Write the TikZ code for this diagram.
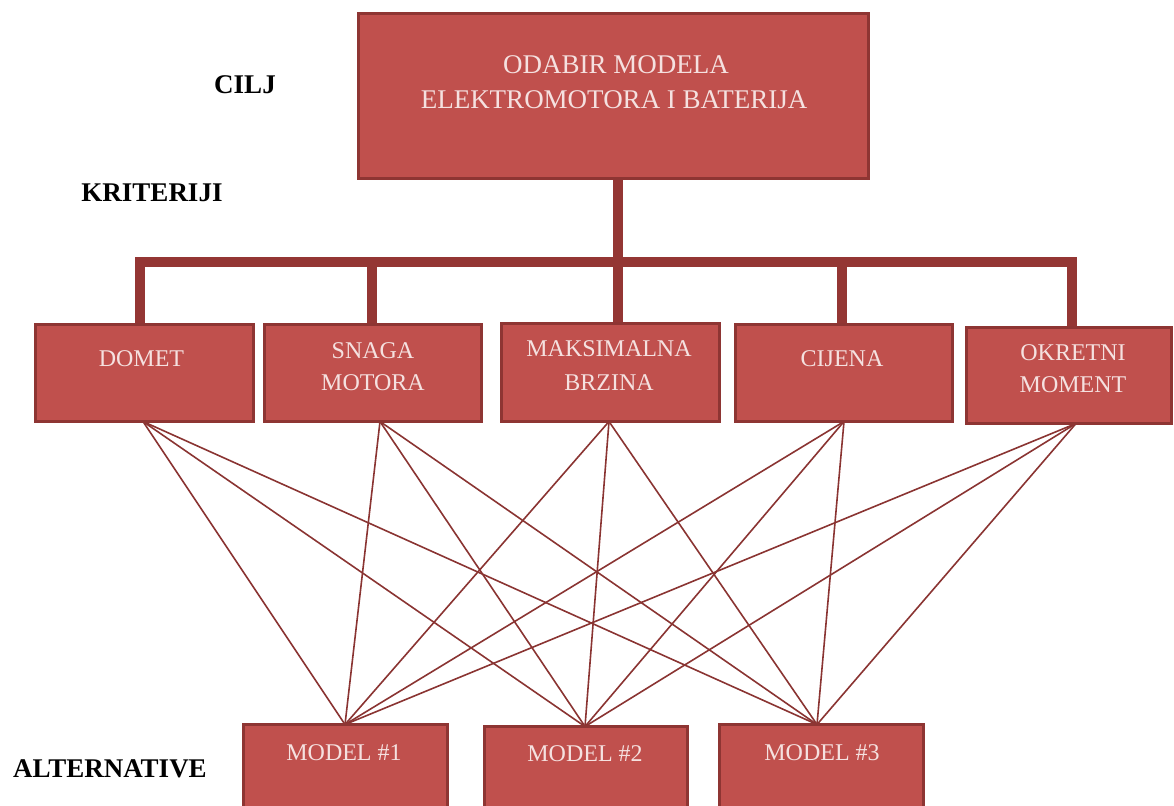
\documentclass[tikz,border=0pt]{standalone}
\usepackage{fontspec}
\setmainfont{Liberation Serif}
\usetikzlibrary{backgrounds}
\definecolor{boxfill}{HTML}{C0504D}
\definecolor{boxline}{HTML}{8E3533}
\definecolor{boxtext}{HTML}{F5E1E0}
\definecolor{trunkcol}{HTML}{943634}
\definecolor{linkcol}{HTML}{8A3432}
\begin{document}
\begin{tikzpicture}[x=1pt,y=-1pt,
  box/.style={draw=boxline, fill=boxfill, line width=3pt, rectangle, inner sep=0pt, outer sep=0pt},
  boxtxt/.style={text=boxtext, anchor=base, inner sep=0pt, font=\fontsize{24}{28}\selectfont},
  toptxt/.style={boxtxt, font=\fontsize{27}{32}\selectfont},
  lbl/.style={anchor=base, inner sep=0pt, text=black, font=\fontsize{27}{32}\selectfont\bfseries},
  trunk/.style={draw=trunkcol, line width=10pt, line join=miter},
  link/.style={draw=linkcol, line width=1.6pt}]
\useasboundingbox (0,0) rectangle (1174,805);

% boxes
\node[box, minimum width=510pt, minimum height=165pt] (goal) at (613.5,96) {};
\node[box, minimum width=218pt, minimum height=97pt] (dom) at (144.5,373) {};
\node[box, minimum width=217pt, minimum height=97pt] (sna) at (373,373) {};
\node[box, minimum width=218pt, minimum height=98pt] (mak) at (610.5,372.5) {};
\node[box, minimum width=217pt, minimum height=97pt] (cij) at (844,373) {};
\node[box, minimum width=205pt, minimum height=96pt] (okr) at (1069,375.5) {};
\node[box, minimum width=204pt, minimum height=86pt] (m1) at (345.5,767.5) {};
\node[box, minimum width=203pt, minimum height=84pt] (m2) at (586,768.5) {};
\node[box, minimum width=204pt, minimum height=86pt] (m3) at (821.5,767.5) {};

% texts
\node[toptxt] (g1) at (616,74) {ODABIR MODELA};
\node[toptxt] (g2) at (614,109) {ELEKTROMOTORA I BATERIJA};
\node[lbl] (cilj) at (245,94) {CILJ};
\node[lbl] (krit) at (152,201) {KRITERIJI};
\node[lbl] (alt) at (110,777) {ALTERNATIVE};
\node[boxtxt] (tdom) at (141.5,366) {DOMET};
\node[boxtxt] (tsna1) at (373,358) {SNAGA};
\node[boxtxt] (tsna2) at (373,390) {MOTORA};
\node[boxtxt] (tmak1) at (609,356) {MAKSIMALNA};
\node[boxtxt] (tmak2) at (609,390) {BRZINA};
\node[boxtxt] (tcij) at (842,366) {CIJENA};
\node[boxtxt] (tokr1) at (1073,360) {OKRETNI};
\node[boxtxt] (tokr2) at (1073,392) {MOMENT};
\node[boxtxt] (tm1) at (344,760) {MODEL \#1};
\node[boxtxt] (tm2) at (585,761) {MODEL \#2};
\node[boxtxt] (tm3) at (822,760) {MODEL \#3};

% tree coordinates
\coordinate (b1) at (139.5,261.5);
\coordinate (b2) at (371.5,261.5);
\coordinate (b3) at (617.5,261.5);
\coordinate (b4) at (842,261.5);
\coordinate (b5) at (1072,261.5);

% link endpoints
\coordinate (odom) at ([xshift=-1.5pt]dom.south);
\coordinate (osna) at ([xshift=7pt]sna.south);
\coordinate (omak) at ([xshift=-1.5pt]mak.south);
\coordinate (ocij) at (cij.south);
\coordinate (ookr) at ([xshift=7pt]okr.south);
\coordinate (im1) at ([xshift=-0.5pt]m1.north);
\coordinate (im2) at ([xshift=-1pt]m2.north);
\coordinate (im3) at ([xshift=-4.5pt]m3.north);

\begin{scope}[on background layer]
  \draw[trunk] (b3 |- goal.south) -- (b3);
  \draw[trunk] (b1 |- dom.north) -- (b1) -- (b5) -- (b5 |- okr.north);
  \draw[trunk] (b2) -- (b2 |- sna.north);
  \draw[trunk] (b3) -- (b3 |- mak.north);
  \draw[trunk] (b4) -- (b4 |- cij.north);
  \foreach \s in {odom,osna,omak,ocij,ookr}
    \foreach \t in {im1,im2,im3}
      \draw[link] (\s) -- (\t);
\end{scope}
\end{tikzpicture}
\end{document}
